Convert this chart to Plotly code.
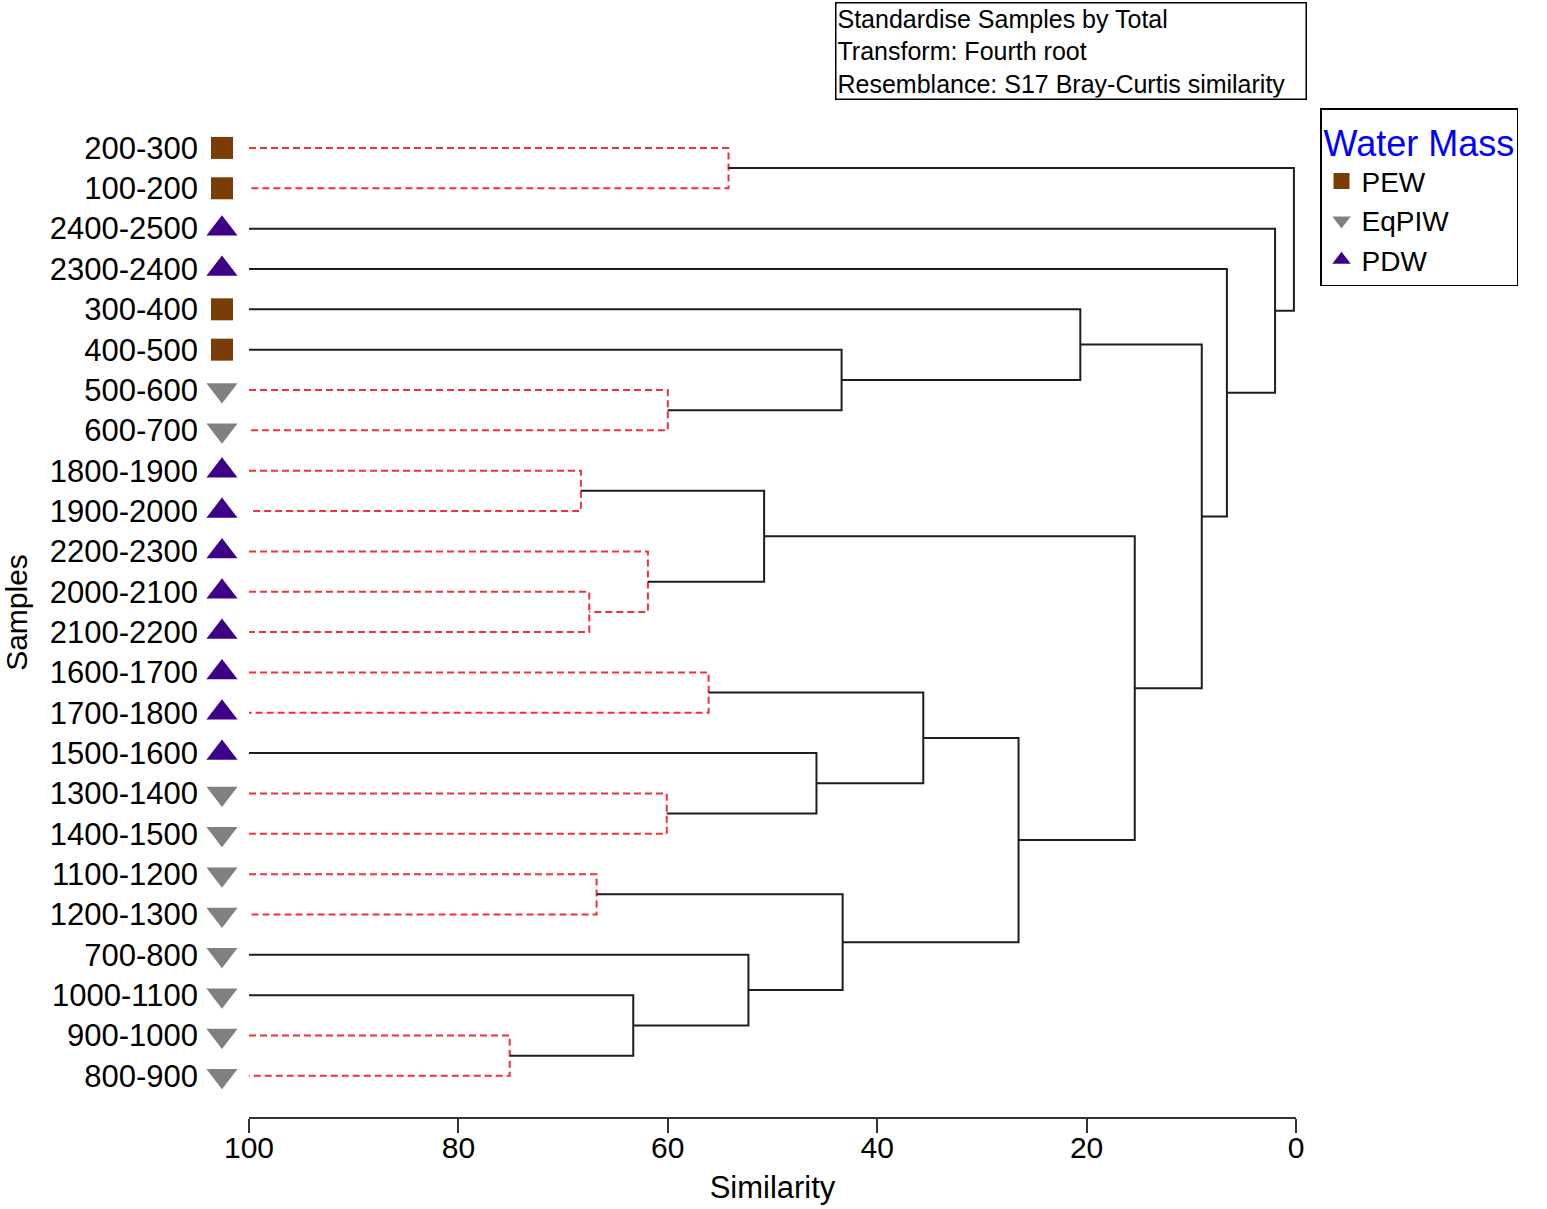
import plotly.graph_objects as go

# ---------------- data ----------------
samples = ["200-300", "100-200", "2400-2500", "2300-2400", "300-400", "400-500",
           "500-600", "600-700", "1800-1900", "1900-2000", "2200-2300", "2000-2100",
           "2100-2200", "1600-1700", "1700-1800", "1500-1600", "1300-1400", "1400-1500",
           "1100-1200", "1200-1300", "700-800", "1000-1100", "900-1000", "800-900"]
water_mass = ["PEW", "PEW", "PDW", "PDW", "PEW", "PEW",
              "EqPIW", "EqPIW", "PDW", "PDW", "PDW", "PDW",
              "PDW", "PDW", "PDW", "PDW", "EqPIW", "EqPIW",
              "EqPIW", "EqPIW", "EqPIW", "EqPIW", "EqPIW", "EqPIW"]
# merges: node ids 24.. in order; children refer to leaf index (<24) or earlier merge id
merge_left = [0, 6, 5, 4, 8, 11, 10, 28, 13, 16, 15, 32, 18, 22, 21, 20, 36, 35, 31, 27, 3, 2, 24]
merge_right = [1, 7, 25, 26, 9, 12, 29, 30, 14, 17, 33, 34, 19, 23, 37, 38, 39, 40, 41, 42, 43, 44, 45]
merge_similarity = [54.2, 60.0, 43.4, 20.6, 68.3, 67.5, 61.9, 50.8, 56.1, 60.1, 45.8, 35.6,
                    66.8, 75.1, 63.3, 52.3, 43.3, 26.5, 15.4, 9.0, 6.6, 2.0, 0.2]
merge_not_significant = [True, True, False, False, True, True, True, False, True, True, False, False,
                         True, True, False, False, False, False, False, False, False, False, False]
x_ticks = [100, 80, 60, 40, 20, 0]
legend_order = ["PEW", "EqPIW", "PDW"]
info_lines = ["Standardise Samples by Total", "Transform: Fourth root",
              "Resemblance: S17 Bray-Curtis similarity"]

# ---------------- styles ----------------
FONT = "Arial, Liberation Sans, sans-serif"
mass_style = {
    "PEW": dict(symbol="square", color="#7B3D06", size=22),
    "EqPIW": dict(symbol="triangle-down", color="#808080", size=27),
    "PDW": dict(symbol="triangle-up", color="#3F0088", size=27),
}
MARKER_COL = 0.386          # position inside the narrow marker column
SOLID = dict(color="#1E1E1E", width=2)
DASHED = dict(color="#F0303C", width=2, dash="7px,4px")

n = len(samples)
node_x = {i: 100.0 for i in range(n)}
node_y = {i: float(i) for i in range(n)}

fig = go.Figure()
for k, (a, b, s, ns) in enumerate(zip(merge_left, merge_right, merge_similarity, merge_not_significant)):
    nid = n + k
    xs = [node_x[a], s, s, node_x[b]]
    ys = [node_y[a], node_y[a], node_y[b], node_y[b]]
    fig.add_trace(go.Scatter(x=xs, y=ys, mode="lines", line=DASHED if ns else SOLID,
                             showlegend=False, hoverinfo="skip", xaxis="x", yaxis="y"))
    node_x[nid] = s
    node_y[nid] = (node_y[a] + node_y[b]) / 2

for m in legend_order:
    idx = [i for i, w in enumerate(water_mass) if w == m]
    st = mass_style[m]
    fig.add_trace(go.Scatter(
        x=[MARKER_COL] * len(idx), y=idx, mode="markers", name=m, cliponaxis=False,
        xaxis="x2", yaxis="y",
        marker=dict(symbol=st["symbol"], color=st["color"], size=st["size"], line=dict(width=0)),
    ))

split = 44 / 1091
fig.update_layout(
    width=1547, height=1209,
    margin=dict(l=205, r=251, t=108, b=92, autoexpand=False),
    paper_bgcolor="white", plot_bgcolor="white",
    font=dict(family=FONT, color="black", size=30),
    showlegend=True,
    legend=dict(
        x=1.022, y=1.0, xanchor="left", yanchor="top",
        bordercolor="black", borderwidth=1.5, bgcolor="white",
        font=dict(size=28, color="black"),
        title=dict(text="Water Mass", font=dict(size=36, color="#0000FF")),
        tracegroupgap=0, itemsizing="trace",
    ),
    xaxis=dict(
        domain=[split, 1], anchor="y", automargin=False,
        range=[100, 0], tickvals=x_ticks, ticktext=[str(v) for v in x_ticks],
        showline=True, linecolor="#333333", linewidth=2, ticks="outside", ticklen=14,
        tickwidth=2, tickcolor="#333333", showgrid=False, zeroline=False,
        tickfont=dict(size=30), ticklabelstandoff=-11,
        title=dict(text="Similarity", font=dict(size=31), standoff=13),
    ),
    xaxis2=dict(domain=[0, split], anchor="y", range=[0, 1], visible=False),
    yaxis=dict(
        anchor="x", automargin=False,
        range=[24.02, -0.99], tickvals=list(range(n)), ticktext=samples,
        showline=False, showgrid=False, zeroline=False, ticks="",
        tickfont=dict(size=31), ticklabelstandoff=50,
        title=dict(text="Samples", font=dict(size=30), standoff=14),
    ),
    annotations=[dict(
        xref="paper", yref="paper", x=0.5775, y=1.105, xanchor="left", yanchor="top",
        text="<br>".join(info_lines), showarrow=False, align="left", width=467,
        font=dict(size=25, color="black"), bordercolor="black", borderwidth=1.5,
        borderpad=1, bgcolor="white",
    )],
)

fig.write_html("out.html", config={"displayModeBar": False},
               post_script="document.body.style.margin='0';")
